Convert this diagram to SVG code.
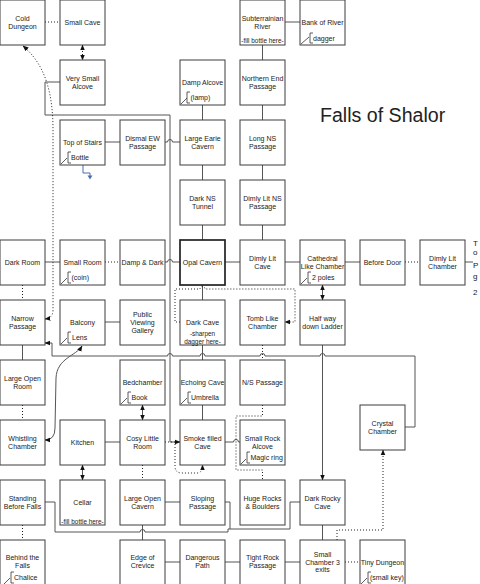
<svg xmlns="http://www.w3.org/2000/svg" width="480" height="584" viewBox="0 0 480 584">
<style>
.box{fill:#fff;stroke:#3c3c3c;stroke-width:1}
.t{font-family:"Liberation Sans",Arial,sans-serif;font-size:7px;fill:#222;text-anchor:middle}
.n{font-family:"Liberation Sans",Arial,sans-serif;font-size:7px;fill:#222;text-anchor:start}
.s{font-family:"Liberation Sans",Arial,sans-serif;font-size:6.4px;fill:#222;text-anchor:middle}
.br{fill:none;stroke:#333;stroke-width:0.8}
.c{fill:none;stroke:#555;stroke-width:1}
.d{fill:none;stroke:#222;stroke-width:1;stroke-dasharray:1 2}
</style>
<defs>
<marker id="ah" viewBox="0 0 10 10" refX="9" refY="5" markerWidth="6" markerHeight="6" markerUnits="userSpaceOnUse" orient="auto-start-reverse"><path d="M0,1 L10,5 L0,9 z" fill="#111"/></marker>
</defs>
<rect width="480" height="584" fill="#fff"/>
<text x="320" y="122" font-family="Liberation Sans, Arial, sans-serif" font-size="19.6" fill="#222">Falls of Shalor</text>
<g id="connectors">
<path class="c" d="M285,22 H300"/>
<path class="c" d="M262.5,45 V60 M262.5,105 V120 M262.5,165 V180 M262.5,225 V240"/>
<path class="c" d="M202.5,105 V120 M202.5,165 V180 M202.5,225 V240 M202.5,285 V300 M202.5,345 V360 M202.5,405 V420"/>
<path class="c" d="M105,142 H120"/>
<path class="c" d="M165,142 H167.5 A2.5,2.5 0 0 1 172.5,142 H180"/>
<path class="c" d="M45,262 H60 M225,262 H240 M285,262 H300 M345,262 H360 M465,262 H473"/>
<path class="c" d="M165,262 H167.5 A2.5,2.5 0 0 1 172.5,262 H180"/>
<path class="c" d="M105,322 H120 M22.5,345 V360 M105,442 H120"/>
<path class="c" d="M225,442 H233.5 A2.5,2.5 0 0 1 238.5,442 H240"/>
<path class="c" d="M165,502 H180 M225,502 H230 V529"/>
<path class="c" d="M45,502 H55 V532 H140 A2.5,2.5 0 0 1 145,532 H228 V529 H290 V502 H300"/>
<path class="c" d="M142.5,525 V540 M165,562 H180 M225,562 H240 M285,562 H300 M322.5,525 V540"/>
<path class="c" d="M60,82 H45 V115 H170 V442 H180" marker-end="url(#ah)"/>
<path class="c" d="M405,427 H415 V356 H325 A2.5,2.5 0 0 0 320,356 H265 A2.5,2.5 0 0 0 260,356 H205 A2.5,2.5 0 0 0 200,356 H172.5 A2.5,2.5 0 0 0 167.5,356 H52 V343 H45" marker-end="url(#ah)"/>
<path class="c" d="M322.5,345 V480" marker-end="url(#ah)"/>
<path class="c" d="M322.5,285 V300" marker-start="url(#ah)" marker-end="url(#ah)"/>
<path class="c" d="M82.5,465 V480" marker-start="url(#ah)" marker-end="url(#ah)"/>
<path class="c" d="M142.5,405 V420" marker-start="url(#ah)" marker-end="url(#ah)"/>
<path class="c" d="M82,346 C76,356 57,358 56,378 L55,428 Q55,440 45,440" marker-start="url(#ah)" marker-end="url(#ah)"/>
<path class="d" d="M45,22 H60 M105,262 H120 M405,262 H420 M22.5,285 V300 M22.5,405 V420 M22.5,525 V540 M142.5,465 V480 M345,562 H360 M262.5,345 V360"/>
<path class="d" d="M82.5,45 V60" marker-start="url(#ah)" marker-end="url(#ah)"/>
<path class="d" d="M180,322 H175 V289 H200 A2.5,2.5 0 0 1 205,289 H295 V322 H285" marker-end="url(#ah)"/>
<path class="d" d="M262.5,405 V416 H236 V470 H262.5 V480"/>
<path class="d" d="M337,540 V530 H383 V450" marker-end="url(#ah)"/>
<path class="d" d="M165,442 H175 V466 Q175,473 182,473 H197 Q202.5,473 202.5,465" marker-end="url(#ah)"/>
<path class="d" d="M45,319 Q53,318 53,310 L53,130 C53,95 46,65 23,46" marker-start="url(#ah)" marker-end="url(#ah)"/>
<path d="M83,165 V173 H90 V176" fill="none" stroke="#4a6fb5" stroke-width="1"/>
<path d="M87.5,175.5 L92.5,175.5 L90,179.5 z" fill="#4a6fb5"/>
</g>
<g id="cold-dungeon"><rect class="box" x="0" y="0" width="45" height="45"/><text class="t"><tspan x="22.5" y="20.5">Cold</tspan><tspan x="22.5" y="28.5">Dungeon</tspan></text></g>
<g id="small-cave"><rect class="box" x="60" y="0" width="45" height="45"/><text class="t" x="82.5" y="25">Small Cave</text></g>
<g id="subterrainian-river"><rect class="box" x="240" y="0" width="45" height="45"/><text class="t"><tspan x="262.5" y="20.5">Subterrainian</tspan><tspan x="262.5" y="28.5">River</tspan></text><text class="s" x="262.5" y="43">-fill bottle here-</text></g>
<g id="bank-of-river"><rect class="box" x="300" y="0" width="45" height="45"/><text class="t" x="322.5" y="25">Bank of River</text><path class="br" d="M301,44 L309,37 M313,33 H310 V43 H313"/><text class="n" x="313" y="40.5">dagger</text></g>
<g id="very-small-alcove"><rect class="box" x="60" y="60" width="45" height="45"/><text class="t"><tspan x="82.5" y="80.5">Very Small</tspan><tspan x="82.5" y="88.5">Alcove</tspan></text></g>
<g id="damp-alcove"><rect class="box" x="180" y="60" width="45" height="45"/><text class="t" x="202.5" y="85">Damp Alcove</text><path class="br" d="M181,104 L187,98 M190,92 H187 V103 H190"/><text class="n" x="190.5" y="100">(lamp)</text></g>
<g id="northern-end-passage"><rect class="box" x="240" y="60" width="45" height="45"/><text class="t"><tspan x="262.5" y="80.5">Northern End</tspan><tspan x="262.5" y="88.5">Passage</tspan></text></g>
<g id="top-of-stairs"><rect class="box" x="60" y="120" width="45" height="45"/><text class="t" x="82.5" y="145">Top of Stairs</text><path class="br" d="M61,164 L67,158 M71,152 H68 V163 H71"/><text class="n" x="71" y="160">Bottle</text></g>
<g id="dismal-ew-passage"><rect class="box" x="120" y="120" width="45" height="45"/><text class="t"><tspan x="142.5" y="140.5">Dismal EW</tspan><tspan x="142.5" y="148.5">Passage</tspan></text></g>
<g id="large-earie-cavern"><rect class="box" x="180" y="120" width="45" height="45"/><text class="t"><tspan x="202.5" y="140.5">Large Earie</tspan><tspan x="202.5" y="148.5">Cavern</tspan></text></g>
<g id="long-ns-passage"><rect class="box" x="240" y="120" width="45" height="45"/><text class="t"><tspan x="262.5" y="140.5">Long NS</tspan><tspan x="262.5" y="148.5">Passage</tspan></text></g>
<g id="dark-ns-tunnel"><rect class="box" x="180" y="180" width="45" height="45"/><text class="t"><tspan x="202.5" y="200.5">Dark NS</tspan><tspan x="202.5" y="208.5">Tunnel</tspan></text></g>
<g id="dimly-lit-ns-passage"><rect class="box" x="240" y="180" width="45" height="45"/><text class="t"><tspan x="262.5" y="200.5">Dimly Lit NS</tspan><tspan x="262.5" y="208.5">Passage</tspan></text></g>
<g id="dark-room"><rect class="box" x="0" y="240" width="45" height="45"/><text class="t" x="22.5" y="265">Dark Room</text></g>
<g id="small-room"><rect class="box" x="60" y="240" width="45" height="45"/><text class="t" x="82.5" y="265">Small Room</text><path class="br" d="M61,284 L67,278 M71,272 H68 V283 H71"/><text class="n" x="71.5" y="280">(coin)</text></g>
<g id="damp-dark"><rect class="box" x="120" y="240" width="45" height="45"/><text class="t" x="142.5" y="265">Damp &amp; Dark</text></g>
<g id="opal-cavern"><rect class="box" x="180" y="240" width="45" height="45" style="stroke-width:1.7;stroke:#222"/><text class="t" x="202.5" y="265">Opal Cavern</text></g>
<g id="dimly-lit-cave"><rect class="box" x="240" y="240" width="45" height="45"/><text class="t"><tspan x="262.5" y="260.5">Dimly Lit</tspan><tspan x="262.5" y="268.5">Cave</tspan></text></g>
<g id="cathedral-like-chamber"><rect class="box" x="300" y="240" width="45" height="45"/><text class="t"><tspan x="322.5" y="260.5">Cathedral</tspan><tspan x="322.5" y="268.5">Like Chamber</tspan></text><path class="br" d="M301,284 L307,278 M311,272 H308 V283 H311"/><text class="n" x="312" y="280">2 poles</text></g>
<g id="before-door"><rect class="box" x="360" y="240" width="45" height="45"/><text class="t" x="382.5" y="265">Before Door</text></g>
<g id="dimly-lit-chamber"><rect class="box" x="420" y="240" width="45" height="45"/><text class="t"><tspan x="442.5" y="260.5">Dimly Lit</tspan><tspan x="442.5" y="268.5">Chamber</tspan></text></g>
<g id="to-page-2"><text font-family="Liberation Sans, Arial, sans-serif" font-size="8" fill="#222"><tspan x="473" y="246">T</tspan><tspan x="473" y="255">o</tspan><tspan x="473" y="268">P</tspan><tspan x="473" y="279">g</tspan><tspan x="473" y="295">2</tspan></text></g>
<g id="narrow-passage"><rect class="box" x="0" y="300" width="45" height="45"/><text class="t"><tspan x="22.5" y="320.5">Narrow</tspan><tspan x="22.5" y="328.5">Passage</tspan></text></g>
<g id="balcony"><rect class="box" x="60" y="300" width="45" height="45"/><text class="t" x="82.5" y="325">Balcony</text><path class="br" d="M61,344 L67,338 M71,332 H68 V343 H71"/><text class="n" x="72" y="340">Lens</text></g>
<g id="public-viewing-gallery"><rect class="box" x="120" y="300" width="45" height="45"/><text class="t"><tspan x="142.5" y="316.5">Public</tspan><tspan x="142.5" y="324.5">Viewing</tspan><tspan x="142.5" y="332.5">Gallery</tspan></text></g>
<g id="dark-cave"><rect class="box" x="180" y="300" width="45" height="45"/><text class="t" x="202.5" y="325">Dark Cave</text><text class="s"><tspan x="202.5" y="335.5">-sharpen</tspan><tspan x="202.5" y="344">dagger here-</tspan></text></g>
<g id="tomb-like-chamber"><rect class="box" x="240" y="300" width="45" height="45"/><text class="t"><tspan x="262.5" y="320.5">Tomb Like</tspan><tspan x="262.5" y="328.5">Chamber</tspan></text></g>
<g id="half-way-down-ladder"><rect class="box" x="300" y="300" width="45" height="45"/><text class="t"><tspan x="322.5" y="320.5">Half way</tspan><tspan x="322.5" y="328.5">down Ladder</tspan></text></g>
<g id="large-open-room"><rect class="box" x="0" y="360" width="45" height="45"/><text class="t"><tspan x="22.5" y="380.5">Large Open</tspan><tspan x="22.5" y="388.5">Room</tspan></text></g>
<g id="bedchamber"><rect class="box" x="120" y="360" width="45" height="45"/><text class="t" x="142.5" y="385">Bedchamber</text><path class="br" d="M121,404 L127,398 M131,392 H128 V403 H131"/><text class="n" x="131.5" y="400">Book</text></g>
<g id="echoing-cave"><rect class="box" x="180" y="360" width="45" height="45"/><text class="t" x="202.5" y="385">Echoing Cave</text><path class="br" d="M181,404 L187,398 M191,392 H188 V403 H191"/><text class="n" x="191" y="400">Umbrella</text></g>
<g id="ns-passage"><rect class="box" x="240" y="360" width="45" height="45"/><text class="t" x="262.5" y="385">N/S Passage</text></g>
<g id="crystal-chamber"><rect class="box" x="360" y="405" width="45" height="45"/><text class="t"><tspan x="382.5" y="425.5">Crystal</tspan><tspan x="382.5" y="433.5">Chamber</tspan></text></g>
<g id="whistling-chamber"><rect class="box" x="0" y="420" width="45" height="45"/><text class="t"><tspan x="22.5" y="440.5">Whistling</tspan><tspan x="22.5" y="448.5">Chamber</tspan></text></g>
<g id="kitchen"><rect class="box" x="60" y="420" width="45" height="45"/><text class="t" x="82.5" y="445">Kitchen</text></g>
<g id="cosy-little-room"><rect class="box" x="120" y="420" width="45" height="45"/><text class="t"><tspan x="142.5" y="440.5">Cosy Little</tspan><tspan x="142.5" y="448.5">Room</tspan></text></g>
<g id="smoke-filled-cave"><rect class="box" x="180" y="420" width="45" height="45"/><text class="t"><tspan x="202.5" y="440.5">Smoke filled</tspan><tspan x="202.5" y="448.5">Cave</tspan></text></g>
<g id="small-rock-alcove"><rect class="box" x="240" y="420" width="45" height="45"/><text class="t"><tspan x="262.5" y="440.5">Small Rock</tspan><tspan x="262.5" y="448.5">Alcove</tspan></text><path class="br" d="M241,464 L246,459 M250,452 H247 V463 H250"/><text class="n" x="250.5" y="459.5">Magic ring</text></g>
<g id="standing-before-falls"><rect class="box" x="0" y="480" width="45" height="45"/><text class="t"><tspan x="22.5" y="500.5">Standing</tspan><tspan x="22.5" y="508.5">Before Falls</tspan></text></g>
<g id="cellar"><rect class="box" x="60" y="480" width="45" height="45"/><text class="t" x="82.5" y="504.5">Cellar</text><text class="s" x="82.5" y="524">-fill bottle here-</text></g>
<g id="large-open-cavern"><rect class="box" x="120" y="480" width="45" height="45"/><text class="t"><tspan x="142.5" y="500.5">Large Open</tspan><tspan x="142.5" y="508.5">Cavern</tspan></text></g>
<g id="sloping-passage"><rect class="box" x="180" y="480" width="45" height="45"/><text class="t"><tspan x="202.5" y="500.5">Sloping</tspan><tspan x="202.5" y="508.5">Passage</tspan></text></g>
<g id="huge-rocks-boulders"><rect class="box" x="240" y="480" width="45" height="45"/><text class="t"><tspan x="262.5" y="500.5">Huge Rocks</tspan><tspan x="262.5" y="508.5">&amp; Boulders</tspan></text></g>
<g id="dark-rocky-cave"><rect class="box" x="300" y="480" width="45" height="45"/><text class="t"><tspan x="322.5" y="500.5">Dark Rocky</tspan><tspan x="322.5" y="508.5">Cave</tspan></text></g>
<g id="behind-the-falls"><rect class="box" x="0" y="540" width="45" height="45"/><text class="t"><tspan x="22.5" y="560">Behind the</tspan><tspan x="22.5" y="568">Falls</tspan></text><path class="br" d="M4,584 L10,578 M14,572 H11 V583 H14"/><text class="n" x="14" y="579.5">Chalice</text></g>
<g id="edge-of-crevice"><rect class="box" x="120" y="540" width="45" height="45"/><text class="t"><tspan x="142.5" y="560">Edge of</tspan><tspan x="142.5" y="568">Crevice</tspan></text></g>
<g id="dangerous-path"><rect class="box" x="180" y="540" width="45" height="45"/><text class="t"><tspan x="202.5" y="560">Dangerous</tspan><tspan x="202.5" y="568">Path</tspan></text></g>
<g id="tight-rock-passage"><rect class="box" x="240" y="540" width="45" height="45"/><text class="t"><tspan x="262.5" y="560">Tight Rock</tspan><tspan x="262.5" y="568">Passage</tspan></text></g>
<g id="small-chamber-3-exits"><rect class="box" x="300" y="540" width="45" height="45"/><text class="t"><tspan x="322.5" y="556.5">Small</tspan><tspan x="322.5" y="564.5">Chamber 3</tspan><tspan x="322.5" y="572">exits</tspan></text></g>
<g id="tiny-dungeon"><rect class="box" x="360" y="540" width="45" height="45"/><text class="t" x="382.5" y="565">Tiny Dungeon</text><path class="br" d="M361,584 L367,578 M371,572 H368 V583 H371"/><text class="n" x="370" y="579.5">(small key)</text></g>
</svg>
